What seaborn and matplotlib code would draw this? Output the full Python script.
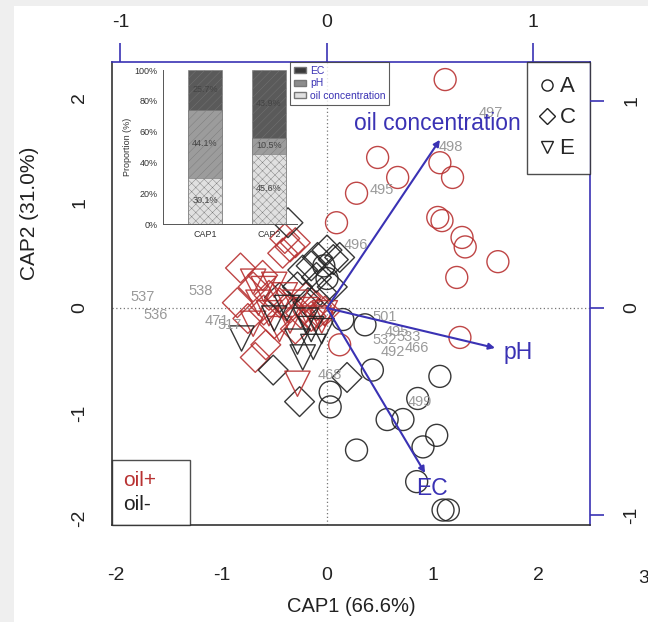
import numpy as np
import pandas as pd
import matplotlib
matplotlib.use("Agg")
import matplotlib.pyplot as plt
import seaborn as sns
from matplotlib.lines import Line2D
from matplotlib.patches import Patch, Rectangle

# ---------------- data ----------------
# site A, oil+ (red circles)
a_pos_x = [1.12, 0.48, 0.67, 0.28, 1.07, 1.19, 1.05, 1.09, 1.28, 1.31, 1.62, 1.23, 0.09, 1.26, 0.12]
a_pos_y = [2.17, 1.43, 1.24, 1.09, 1.38, 1.24, 0.86, 0.83, 0.67, 0.58, 0.44, 0.29, 0.81, -0.28, -0.35]
# site A, oil- (black circles)
a_neg_x = [0.03, 0.03, 1.07, 0.86, 0.57, 0.72, 1.04, 0.91, 0.28, 0.85, 1.10, 1.15, 0.15, 0.36, 0.43, -0.03, 0.00]
a_neg_y = [-0.80, -0.94, -0.65, -0.86, -1.06, -1.06, -1.21, -1.32, -1.35, -1.65, -1.92, -1.92, -0.11, -0.16, -0.59, 0.40, 0.28]
# site C, oil+ (red diamonds)
c_pos_x = [-0.40, -0.35, -0.30, -0.42, -0.82, -0.61, -0.70, -0.55, -0.45, -0.35, -0.25, -0.15, -0.08,
           -0.60, -0.75, -0.50, -0.68, -0.58, -0.20, -0.10, -0.30, -0.85, -0.02]
c_pos_y = [0.66, 0.58, 0.62, 0.52, 0.38, 0.31, 0.20, 0.12, 0.05, 0.00, -0.05, -0.08, -0.05,
           -0.02, -0.10, -0.15, -0.47, -0.35, 0.10, 0.02, -0.20, 0.05, -0.03]
# site C, oil- (black diamonds)
c_neg_x = [-0.37, 0.00, -0.09, -0.23, -0.15, -0.10, -0.28, 0.06, 0.12, -0.51, 0.19, -0.26, -0.05, -0.18, 0.05, -0.45]
c_neg_y = [0.81, 0.55, 0.48, 0.36, 0.40, 0.29, 0.20, 0.46, 0.48, -0.59, -0.66, -0.89, 0.15, 0.05, 0.20, 0.10]
# site E, oil+ (red triangles)
e_pos_x = [-0.70, -0.60, -0.50, -0.65, -0.55, -0.40, -0.30, -0.20, -0.12, -0.05, -0.45, -0.35, -0.28, -0.70, -0.02]
e_pos_y = [0.25, 0.18, 0.22, 0.05, -0.05, 0.12, 0.05, -0.02, -0.10, -0.12, -0.20, -0.12, -0.72, -0.15, -0.05]
# site E, oil- (black triangles)
e_neg_x = [-0.81, -0.28, -0.23, -0.13, -0.50, -0.15, -0.38, -0.20, -0.05]
e_neg_y = [-0.29, -0.32, -0.47, -0.37, -0.10, -0.20, 0.00, -0.12, -0.22]

# sample labels
lab_text = ["497", "498", "495", "496", "537", "538", "536", "471", "517",
            "501", "495", "532", "492", "466", "533", "499", "468"]
lab_x = [1.55, 1.17, 0.52, 0.27, -1.75, -1.20, -1.62, -1.04, -0.92,
         0.55, 0.66, 0.55, 0.62, 0.85, 0.77, 0.88, 0.03]
lab_y = [1.85, 1.53, 1.12, 0.60, 0.10, 0.16, -0.07, -0.12, -0.16,
         -0.09, -0.23, -0.30, -0.42, -0.38, -0.28, -0.89, -0.64]

# environmental vectors (biplot scale, top/right axes)
env_names = ["oil concentration", "pH", "EC"]
env_x = [0.547, 0.814, 0.475]
env_y = [0.812, -0.193, -0.797]
env_lab_x = [0.533, 0.925, 0.508]
env_lab_y = [0.889, -0.213, -0.870]

# inset: proportions
caps = ["CAP1", "CAP2"]
oil_pct = [30.1, 45.6]
ph_pct = [44.1, 10.5]
ec_pct = [25.7, 43.9]

xticks_main = [-2, -1, 0, 1, 2]
yticks_main = [-2, -1, 0, 1, 2]
ticks_env = [-1, 0, 1]

# ---------------- build frame ----------------
rows = []
for xs, ys, site, oil in [(a_pos_x, a_pos_y, "A", "oil+"), (a_neg_x, a_neg_y, "A", "oil-"),
                          (c_pos_x, c_pos_y, "C", "oil+"), (c_neg_x, c_neg_y, "C", "oil-"),
                          (e_pos_x, e_pos_y, "E", "oil+"), (e_neg_x, e_neg_y, "E", "oil-")]:
    for x, y in zip(xs, ys):
        rows.append({"CAP1": x, "CAP2": y, "site": site, "oil": oil})
df = pd.DataFrame(rows)

sns.set_theme(style="white")
plt.rcParams["font.family"] = ["Liberation Sans", "DejaVu Sans"]
plt.rcParams["hatch.linewidth"] = 0.3

RED = "#b83232"
BLK = "#222222"
BLUE = "#3a32b4"

fig = plt.figure(figsize=(6.48, 6.22), dpi=100, facecolor="#efefef")
fig.patches.append(Rectangle((14 / 648, 0.0), 1.0, (622 - 6) / 622, transform=fig.transFigure,
                             facecolor="white", edgecolor="none", zorder=-10))

ax = fig.add_axes([112 / 648, 1 - 525 / 622, 478 / 648, 463 / 622])
ax.set_facecolor("white")
ax.set_xlim(-2.038, 2.493)
ax.set_ylim(-2.062, 2.337)

ax.axhline(0, color="#777777", lw=0.9, ls=(0, (1, 2)), zorder=1)
ax.axvline(0, color="#777777", lw=0.9, ls=(0, (1, 2)), zorder=1)

sns.scatterplot(data=df, x="CAP1", y="CAP2", hue="oil", style="site", size="site",
                markers={"A": "o", "C": "D", "E": "v"},
                sizes={"A": 250, "C": 230, "E": 330},
                palette={"oil+": RED, "oil-": BLK}, linewidth=1.0,
                legend=False, ax=ax, zorder=3)
for coll in ax.collections:
    fc = coll.get_facecolors()
    if len(fc):
        coll.set_edgecolors(fc)
        coll.set_facecolors("none")
        coll.set_alpha(0.9)

for t, x, y in zip(lab_text, lab_x, lab_y):
    ax.text(x, y, t, color="#9a9a9a", fontsize=10.5, ha="center", va="center", zorder=4)

ax.set_xticks(xticks_main)
ax.set_yticks(yticks_main)
ax.set_xticklabels([str(v) for v in xticks_main])
ax.set_yticklabels([str(v) for v in yticks_main])
ax.tick_params(axis="both", direction="out", length=10, width=1, colors=BLK, labelsize=14)
ax.tick_params(axis="x", pad=20)
ax.tick_params(axis="y", pad=7, labelrotation=90)
for lbl in ax.get_yticklabels():
    lbl.set_va("center")
ax.text(3, -0.115, "3", transform=ax.get_xaxis_transform(), ha="center", va="center",
        fontsize=14, color=BLK, clip_on=False)

for side in ["left", "bottom"]:
    ax.spines[side].set_color("#333333")
    ax.spines[side].set_linewidth(1.2)
for side in ["top", "right"]:
    ax.spines[side].set_color(BLUE)
    ax.spines[side].set_linewidth(1.2)

ax.set_xlabel("CAP1 (66.6%)", fontsize=14.5, color=BLK)
ax.set_ylabel("CAP2 (31.0%)", fontsize=15, color=BLK)
ax.xaxis.set_label_coords(0.5, -0.177)
ax.xaxis.label.set_va("center")
ax.yaxis.set_label_coords(-0.172, 0.674)
ax.yaxis.label.set_va("center")

# legends
shape_handles = [Line2D([], [], marker=m, ls="none", mfc="none", mec=BLK, ms=8, mew=1)
                 for m in ["o", "D", "v"]]
leg1 = ax.legend(shape_handles, ["A", "C", "E"], loc="upper right", bbox_to_anchor=(1, 1),
                 borderaxespad=0, frameon=True, fancybox=False, fontsize=16,
                 handlelength=0.5, handletextpad=0.3, labelspacing=0.45, borderpad=0.65)
leg1.get_frame().set_edgecolor(BLK)
leg1.get_frame().set_linewidth(1.0)
ax.add_artist(leg1)

oil_handles = [Line2D([], [], ls="none", marker=None) for _ in range(2)]
leg2 = ax.legend(oil_handles, ["oil+", "oil-"], loc="lower left",
                 bbox_to_anchor=(0, 0, 78 / 478, 0.1), mode="expand",
                 borderaxespad=0, frameon=True, fancybox=False, fontsize=15,
                 handlelength=0, handletextpad=0, labelspacing=0.2, borderpad=0.55,
                 labelcolor=[RED, BLK])
leg2.get_frame().set_edgecolor(BLK)
leg2.get_frame().set_linewidth(1.0)

# secondary (biplot) axes
ax2 = fig.add_axes(ax.get_position(), frameon=False)
ax2.patch.set_visible(False)
ax2.set_xlim(-1.041, 1.274)
ax2.set_ylim(-1.048, 1.188)
ax2.xaxis.tick_top()
ax2.yaxis.tick_right()
ax2.set_xticks(ticks_env)
ax2.set_yticks(ticks_env)
ax2.set_xticklabels([str(v) for v in ticks_env])
ax2.set_yticklabels([str(v) for v in ticks_env])
ax2.tick_params(axis="both", direction="out", width=1.2, colors=BLUE, labelcolor=BLK, labelsize=14)
ax2.tick_params(axis="x", length=14, pad=8)
ax2.tick_params(axis="y", length=10, pad=14, labelrotation=90)
for lbl in ax2.get_yticklabels():
    lbl.set_va("center")

for name, x, y, lx, ly in zip(env_names, env_x, env_y, env_lab_x, env_lab_y):
    ax2.annotate("", xy=(x, y), xytext=(0, 0),
                 arrowprops=dict(arrowstyle="-|>", color=BLUE, lw=1.5, mutation_scale=9,
                                 shrinkA=0, shrinkB=0))
    ax2.text(lx, ly, name, color=BLUE, fontsize=16.5, ha="center", va="center")

# inset stacked bar chart
ins = fig.add_axes([163 / 648, 1 - 224 / 622, (400 - 163) / 648, (224 - 70) / 622])
ins.patch.set_visible(False)
cum_total = [o + p + e for o, p, e in zip(oil_pct, ph_pct, ec_pct)]
cum_mid = [o + p for o, p in zip(oil_pct, ph_pct)]
layers = [(cum_total, "#5a5a5a", "////"), (cum_mid, "#9c9c9c", "////"), (oil_pct, "#e0e0e0", "xxxx")]
for vals, col, hatch in layers:
    n0 = len(ins.patches)
    sns.barplot(x=caps, y=vals, color=col, width=0.53, ax=ins, saturation=1,
                edgecolor="#777777", linewidth=0.4)
    for p in ins.patches[n0:]:
        p.set_hatch(hatch)
ins.set_xlim(-0.656, 3.047)
ins.set_ylim(0, 100)
ins.set_yticks([0, 20, 40, 60, 80, 100])
ins.set_yticklabels(["0%", "20%", "40%", "60%", "80%", "100%"])
ins.tick_params(axis="both", labelsize=6.5, length=2.5, width=0.6, pad=1.5, colors="#333333")
ins.set_ylabel("Proportion (%)", fontsize=6.5, labelpad=2, color="#333333")
ins.set_xlabel("")
for s in ["top", "right"]:
    ins.spines[s].set_visible(False)
for s in ["left", "bottom"]:
    ins.spines[s].set_color("#555555")
    ins.spines[s].set_linewidth(0.7)
ins.spines["bottom"].set_bounds(-0.656, 1.44)
ins.spines["left"].set_bounds(0, 100)

for i in range(2):
    pos = [oil_pct[i] / 2, oil_pct[i] + ph_pct[i] / 2, oil_pct[i] + ph_pct[i] + ec_pct[i] / 2]
    for v, yy in zip([oil_pct[i], ph_pct[i], ec_pct[i]], pos):
        ins.text(i, yy, f"{v:.1f}%", ha="center", va="center", fontsize=6.5, color="#444444")

leg_handles = [Patch(facecolor="#3a3a3a", edgecolor="#777777"),
               Patch(facecolor="#8c8c8c", edgecolor="#777777"),
               Patch(facecolor="#e0e0e0", edgecolor="#777777")]
leg3 = fig.legend(leg_handles, ["EC", "pH", "oil concentration"], loc="upper left",
                  bbox_to_anchor=(290 / 648, 1 - 62 / 622), borderaxespad=0,
                  frameon=True, fancybox=False, fontsize=7.5, labelcolor=BLUE,
                  handlelength=1.2, handleheight=0.5, handletextpad=0.4,
                  labelspacing=0.25, borderpad=0.35)
leg3.get_frame().set_edgecolor("#333333")
leg3.get_frame().set_linewidth(0.8)

fig.savefig("out.png", dpi=100, facecolor=fig.get_facecolor())
